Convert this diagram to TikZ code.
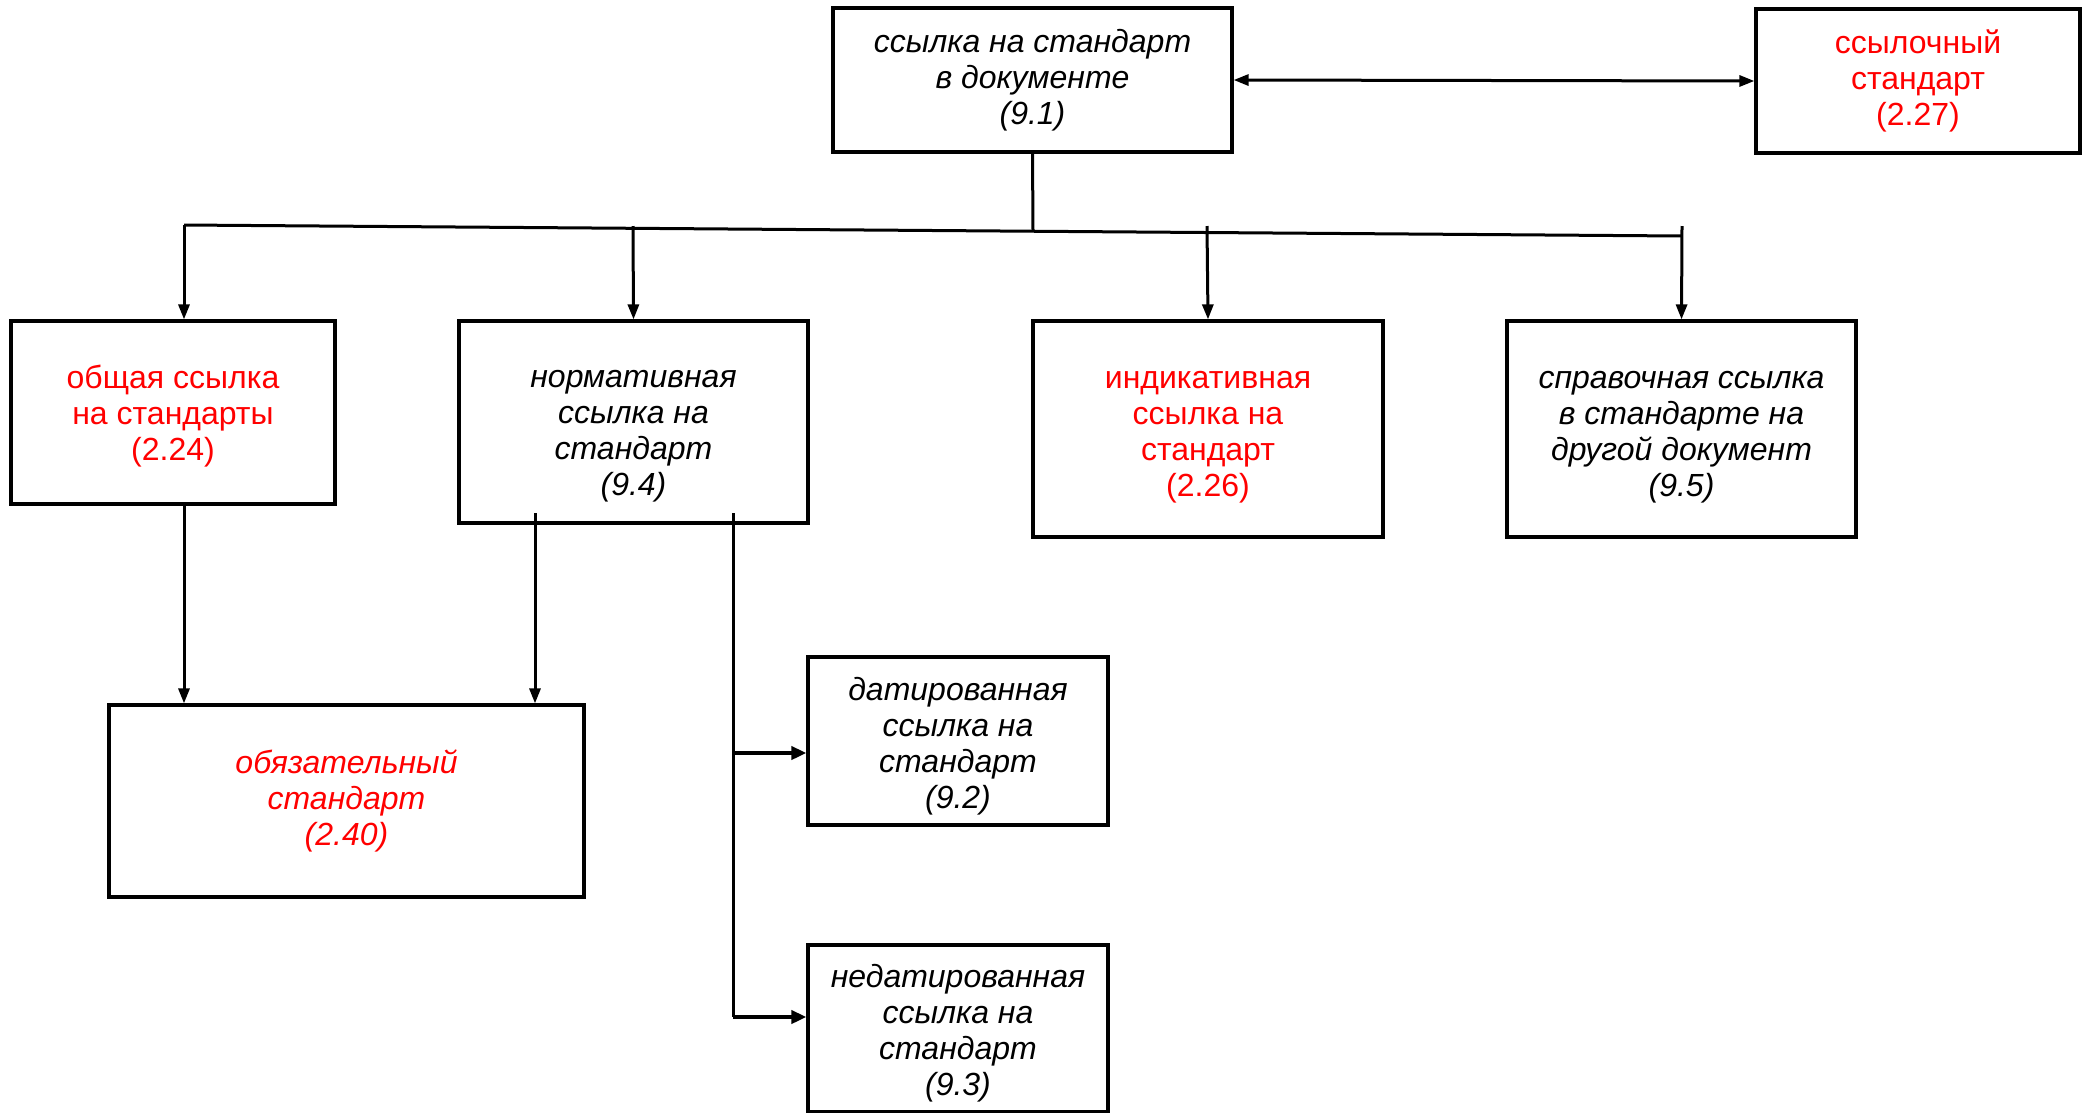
\documentclass[tikz,border=0pt]{standalone}
\usepackage{fontspec}
\setmainfont{Liberation Sans}
\usetikzlibrary{arrows.meta}
\begin{document}
\begin{tikzpicture}[x=1pt,y=-1pt,
  box/.style={draw,line width=3.2pt,inner sep=0pt},
  txt/.style={inner sep=0pt,align=center,font=\fontsize{32}{36}\selectfont},
  it/.style={font=\fontsize{32}{36}\selectfont\itshape},
  red/.style={text=red},
  conn/.style={line width=3pt},
  arr/.style={line width=3pt,-{Triangle[length=15pt,width=11pt]}},
  darr/.style={line width=3pt,{Triangle[length=15pt,width=11pt]}-{Triangle[length=15pt,width=11pt]}},
  barr/.style={line width=4pt,-{Triangle[length=15pt,width=13pt]}}]
\useasboundingbox (0,0) rectangle (2091,1112);
% boxes
\node[box,minimum width=399pt,minimum height=144pt] (top) at (1032.5,80) {};
\node[box,minimum width=324pt,minimum height=144pt] (ref) at (1918,81) {};
\node[box,minimum width=324pt,minimum height=183pt] (A) at (173,412.5) {};
\node[box,minimum width=349pt,minimum height=202pt] (B) at (633.5,422) {};
\node[box,minimum width=350pt,minimum height=216pt] (C) at (1208,429) {};
\node[box,minimum width=349pt,minimum height=216pt] (D) at (1681.5,429) {};
\node[box,minimum width=475pt,minimum height=192pt] (E) at (346.5,801) {};
\node[box,minimum width=300pt,minimum height=168pt] (F) at (958,741) {};
\node[box,minimum width=300pt,minimum height=167pt] (G) at (958,1028.5) {};
% texts
\node[txt,it] (topt) at (top.center) {ссылка на стандарт\\в документе\\(9.1)};
\node[txt,red] (reft) at (ref.center) {ссылочный\\стандарт\\(2.27)};
\node[txt,red] (At) at ([yshift=-4pt]A.center) {общая ссылка\\на стандарты\\(2.24)};
\node[txt,it] (Bt) at ([yshift=-14pt]B.center) {нормативная\\ссылка на\\стандарт\\(9.4)};
\node[txt,red] (Ct) at ([yshift=-8pt]C.center) {индикативная\\ссылка на\\стандарт\\(2.26)};
\node[txt,it] (Dt) at ([yshift=-8pt]D.center) {справочная ссылка\\в стандарте на\\другой документ\\(9.5)};
\node[txt,it,red] (Et) at (E.center) {обязательный\\стандарт\\(2.40)};
\node[txt,it] (Ft) at ([yshift=-5pt]F.center) {датированная\\ссылка на\\стандарт\\(9.2)};
\node[txt,it] (Gt) at ([yshift=-5pt]G.center) {недатированная\\ссылка на\\стандарт\\(9.3)};
% connectors
\draw[darr] (top.east) -- (ref.west);
\coordinate (hl) at (184,225);
\coordinate (hr) at (1682,236);
\coordinate (hm) at (1033,231);
\draw[conn] (top.south) -- (hm);
\draw[conn] (hl) -- (hr);
\draw[arr] (hl) -- (hl |- A.north);
\draw[arr] (633,226) -- (B.north);
\draw[arr] (1207,226) -- (C.north);
\draw[arr] (1682,226) -- (D.north);
\draw[arr] (A.south -| hl) -- (E.north -| hl);
\coordinate (b1) at (535,513);
\coordinate (b2) at (733,513);
\draw[arr] (b1) -- (b1 |- E.north);
\coordinate (f1) at (733,753);
\coordinate (g1) at (733,1017);
\draw[conn] (b2) -- (g1);
\draw[barr] (f1) -- (f1 -| F.west);
\draw[barr] (g1) -- (g1 -| G.west);
\end{tikzpicture}
\end{document}
